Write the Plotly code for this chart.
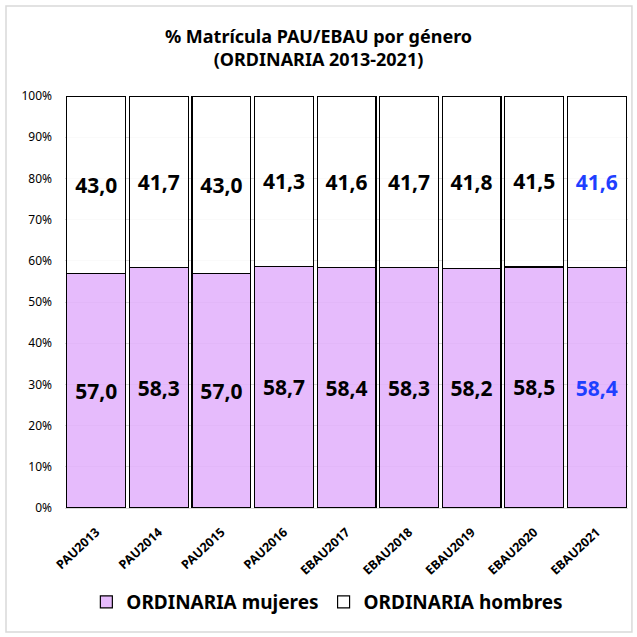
import plotly.graph_objects as go

categories = ["PAU2013", "PAU2014", "PAU2015", "PAU2016", "EBAU2017",
              "EBAU2018", "EBAU2019", "EBAU2020", "EBAU2021"]
mujeres = [57.0, 58.3, 57.0, 58.7, 58.4, 58.3, 58.2, 58.5, 58.4]
hombres = [43.0, 41.7, 43.0, 41.3, 41.6, 41.7, 41.8, 41.5, 41.6]
label_colors = ["black"] * 8 + ["#1F3FFF"]

def fmt(v):
    return f"{v:.1f}".replace(".", ",")

FONT = "Noto Sans"

fig = go.Figure()
fig.add_trace(go.Bar(
    x=categories, y=mujeres, name="<b>ORDINARIA mujeres</b>",
    marker=dict(color="rgba(226,178,252,0.88)", line=dict(color="black", width=1.2)),
    text=[f"<b>{fmt(v)}</b>" for v in mujeres], textposition="inside", insidetextanchor="middle",
    textangle=0, constraintext="none",
    textfont=dict(family=FONT, size=21, color=label_colors),
    hoverinfo="skip",
))
fig.add_trace(go.Bar(
    x=categories, y=hombres, name="<b>ORDINARIA hombres</b>",
    marker=dict(color="rgba(255,255,255,0.85)", line=dict(color="black", width=1.2)),
    text=[f"<b>{fmt(v)}</b>" for v in hombres], textposition="inside", insidetextanchor="middle",
    textangle=0, constraintext="none",
    textfont=dict(family=FONT, size=21, color=label_colors),
    hoverinfo="skip",
))

fig.update_layout(
    barmode="stack", bargap=0.06,
    width=637, height=637,
    paper_bgcolor="white", plot_bgcolor="white",
    margin=dict(l=65, r=9, t=96, b=129, autoexpand=False),
    title=dict(text="<b>% Matrícula PAU/EBAU por género<br>(ORDINARIA 2013-2021)</b>",
               x=0.5, xanchor="center", y=0.933, yanchor="top",
               font=dict(family=FONT, size=18, color="black")),
    font=dict(family=FONT, color="black"),
    legend=dict(orientation="h", x=0.466, xanchor="center", y=-0.228, yanchor="middle",
                font=dict(family=FONT, size=19, color="black"),
                traceorder="normal"),
    uniformtext=dict(mode=False),
    shapes=[dict(type="rect", xref="paper", yref="paper", x0=-0.1048, x1=1.007, y0=-0.301, y1=1.2184,
                 line=dict(color="#D9D9D9", width=1.5), fillcolor="rgba(0,0,0,0)", layer="above")],
)
fig.update_yaxes(range=[0, 100], dtick=10, ticksuffix="%", showgrid=True,
                 gridcolor="#D9D9D9", gridwidth=1, zeroline=False,
                 tickfont=dict(family=FONT, size=12, color="black"),
                 ticklabelstandoff=12,
                 showline=False, fixedrange=True)
fig.update_xaxes(tickangle=-43, tickfont=dict(family=FONT, size=12.5, color="black", weight="bold"),
                 ticklabelstandoff=11,
                 showline=True, linecolor="#D9D9D9", fixedrange=True)

fig.write_html("out.html", config={"displayModeBar": False},
               post_script="document.body.style.margin='0';document.body.style.overflow='hidden';")
